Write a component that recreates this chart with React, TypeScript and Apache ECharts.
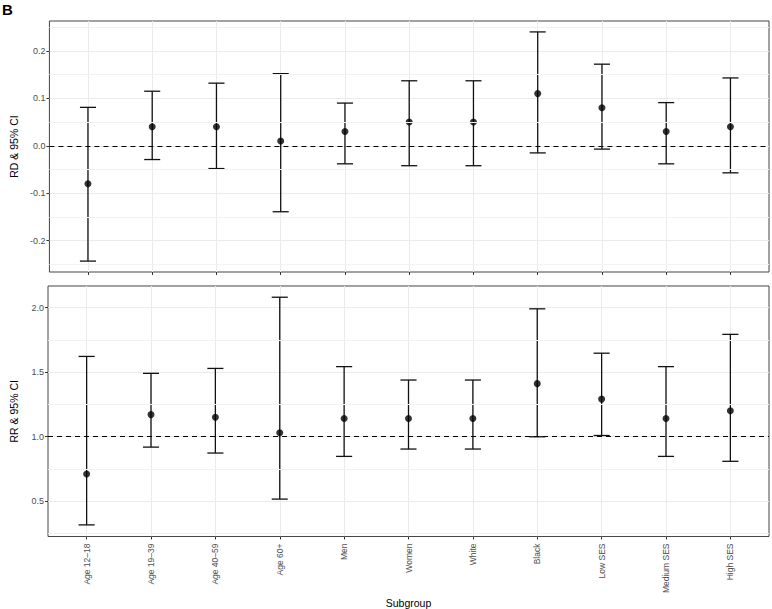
import React, { useEffect, useRef } from "react";
import * as echarts from "echarts";

const categories = ["Age 12–18", "Age 19–39", "Age 40–59", "Age 60+", "Men", "Women", "White", "Black", "Low SES", "Medium SES", "High SES"];
const rdEst = [-0.08, 0.04, 0.04, 0.01, 0.03, 0.05, 0.05, 0.11, 0.08, 0.03, 0.04];
const rdLow = [-0.243, -0.029, -0.048, -0.139, -0.038, -0.042, -0.042, -0.015, -0.007, -0.038, -0.057];
const rdHigh = [0.081, 0.115, 0.132, 0.152, 0.09, 0.137, 0.137, 0.24, 0.172, 0.091, 0.143];
const rrEst = [0.71, 1.17, 1.15, 1.03, 1.14, 1.14, 1.14, 1.41, 1.29, 1.14, 1.2];
const rrLow = [0.315, 0.918, 0.872, 0.515, 0.846, 0.903, 0.903, 0.998, 1.008, 0.846, 0.808];
const rrHigh = [1.621, 1.49, 1.528, 2.08, 1.542, 1.438, 1.438, 1.99, 1.646, 1.542, 1.792];
const rdTicks = [-0.2, -0.1, 0, 0.1, 0.2];
const rdMinor = [-0.25, -0.15, -0.05, 0.05, 0.15, 0.25];
const rrTicks = [0.5, 1.0, 1.5, 2.0];
const rrMinor = [0.25, 0.75, 1.25, 1.75];
const rdRange = [-0.266, 0.263];
const rrRange = [0.225, 2.167];
const rdRef = 0;
const rrRef = 1;

const FONT = "Liberation Sans, Arial, Helvetica, sans-serif";
const catIdx = categories.map((_, i) => i);

export default function App() {
  const ref = useRef<HTMLDivElement>(null);
  useEffect(() => {
    const chart = echarts.init(ref.current!, null, { renderer: "svg" });
    const xAxisBase = (gridIndex: number, showLabels: boolean) => ({
      type: "value",
      gridIndex,
      min: -0.6,
      max: 10.6,
      position: "bottom",
      axisLine: { show: false, onZero: false },
      axisTick: { show: true, customValues: catIdx, length: 3, lineStyle: { color: "#333", width: 1 } },
      axisLabel: {
        show: showLabels,
        customValues: catIdx,
        rotate: 90,
        margin: 7,
        fontSize: 8.5,
        color: "#4d4d4d",
        fontFamily: FONT,
        formatter: (v: number) => categories[Math.round(v)] ?? "",
      },
      splitLine: { show: true, lineStyle: { color: "#ebebeb", width: 1 } },
    });
    const yAxisBase = (gridIndex: number, range: number[], ticks: number[], name: string) => ({
      type: "value",
      gridIndex,
      min: range[0],
      max: range[1],
      position: "left",
      name,
      nameLocation: "middle",
      nameGap: 29,
      nameTextStyle: { fontSize: 10.5, color: "#000", fontFamily: FONT },
      axisLine: { show: false, onZero: false },
      axisTick: { show: true, customValues: ticks, length: 3, lineStyle: { color: "#333", width: 1 } },
      axisLabel: {
        customValues: ticks,
        margin: 4,
        fontSize: 9,
        color: "#4d4d4d",
        fontFamily: FONT,
        formatter: (v: number) => v.toFixed(1),
      },
      splitLine: { show: true, lineStyle: { color: "#ebebeb", width: 1 } },
    });
    const errorSeries = (idx: number, lo: number[], hi: number[]) => ({
      type: "custom",
      xAxisIndex: idx,
      yAxisIndex: idx,
      z: 3,
      silent: true,
      data: catIdx.map((i) => [i, lo[i], hi[i]]),
      encode: { x: 0, y: [1, 2] },
      renderItem: (params: any, api: any) => {
        const x = api.value(0);
        const pLo = api.coord([x, api.value(1)]);
        const pHi = api.coord([x, api.value(2)]);
        const hw = api.size([0.125, 0])[0];
        const st = { stroke: "#111", lineWidth: 1.3 };
        return {
          type: "group",
          children: [
            { type: "line", shape: { x1: pLo[0], y1: pLo[1], x2: pHi[0], y2: pHi[1] }, style: st },
            { type: "line", shape: { x1: pLo[0] - hw, y1: pLo[1], x2: pLo[0] + hw, y2: pLo[1] }, style: st },
            { type: "line", shape: { x1: pHi[0] - hw, y1: pHi[1], x2: pHi[0] + hw, y2: pHi[1] }, style: st },
          ],
        };
      },
    });
    const pointSeries = (idx: number, est: number[], refVal: number) => ({
      type: "scatter",
      xAxisIndex: idx,
      yAxisIndex: idx,
      z: 4,
      silent: true,
      symbolSize: 7,
      itemStyle: { color: "#000" },
      data: catIdx.map((i) => [i, est[i]]),
      markLine: {
        silent: true,
        symbol: ["none", "none"],
        label: { show: false },
        lineStyle: { color: "#000", width: 1, type: [5, 4] },
        data: [{ yAxis: refVal }],
      },
    });
    const minorSeries = (idx: number, minor: number[]) => ({
      type: "scatter",
      xAxisIndex: idx,
      yAxisIndex: idx,
      z: 1,
      silent: true,
      data: [],
      markLine: {
        silent: true,
        symbol: ["none", "none"],
        label: { show: false },
        lineStyle: { color: "#f2f2f2", width: 1, type: "solid" },
        data: minor.map((v) => ({ yAxis: v })),
      },
    });
    chart.setOption({
      animation: false,
      backgroundColor: "#fff",
      textStyle: { fontFamily: FONT },
      graphic: [
        { type: "text", left: 2, top: 2, style: { text: "B", fontSize: 15, fontWeight: "bold", fill: "#000", fontFamily: FONT } },
      ],
      grid: [
        { left: 42, right: 3, top: 21, height: 251, show: true, borderColor: "#444", borderWidth: 1, backgroundColor: "transparent" },
        { left: 42, right: 3, top: 286, height: 252, show: true, borderColor: "#444", borderWidth: 1, backgroundColor: "transparent" },
      ],
      xAxis: [
        xAxisBase(0, false),
        { ...xAxisBase(1, true), name: "Subgroup", nameLocation: "middle", nameGap: 50, nameTextStyle: { fontSize: 10.5, color: "#000", fontFamily: FONT } },
      ],
      yAxis: [
        yAxisBase(0, rdRange, rdTicks, "RD & 95% CI"),
        yAxisBase(1, rrRange, rrTicks, "RR & 95% CI"),
      ],
      series: [
        minorSeries(0, rdMinor),
        minorSeries(1, rrMinor),
        errorSeries(0, rdLow, rdHigh),
        errorSeries(1, rrLow, rrHigh),
        pointSeries(0, rdEst, rdRef),
        pointSeries(1, rrEst, rrRef),
      ],
    });
    return () => chart.dispose();
  }, []);
  return <div ref={ref} style={{ position: "absolute", left: 0, top: 0, width: 772, height: 609 }} />;
}
